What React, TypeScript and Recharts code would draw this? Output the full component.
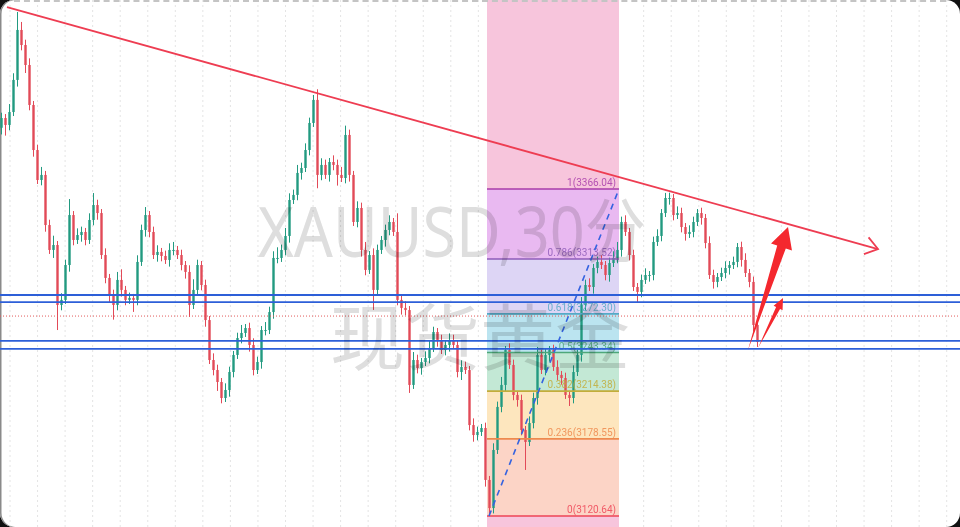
import {
  ComposedChart,
  Bar,
  XAxis,
  YAxis,
  CartesianGrid,
  ReferenceArea,
  ReferenceLine,
} from "recharts";

// XAUUSD 30m, one close per slot (open = previous close)
const closes = [
  3419.3, 3414.1, 3423.8, 3447.9, 3485.4, 3474.1, 3459.1, 3429.1, 3395.3, 3372.8,
  3376.6, 3339.0, 3320.3, 3324.0, 3279.0, 3282.8, 3309.0, 3346.5, 3327.8, 3331.5,
  3333.8, 3327.8, 3342.8, 3354.0, 3348.0, 3316.5, 3299.3, 3286.5, 3279.0, 3297.8,
  3290.3, 3282.8, 3284.3, 3282.8, 3311.3, 3335.3, 3346.5, 3333.8, 3316.5, 3318.8,
  3315.8, 3312.8, 3320.3, 3320.3, 3316.5, 3309.0, 3303.8, 3279.0, 3290.3, 3309.0,
  3294.0, 3267.7, 3237.7, 3230.2, 3221.2, 3209.2, 3215.2, 3228.7, 3241.5, 3254.2,
  3258.0, 3261.7, 3249.0, 3230.2, 3236.2, 3260.2, 3260.2, 3273.7, 3314.3, 3314.3,
  3320.3, 3330.8, 3357.8, 3361.6, 3378.1, 3381.8, 3395.3, 3415.6, 3432.9, 3376.6,
  3384.1, 3376.6, 3386.3, 3384.1, 3376.6, 3374.3, 3406.6, 3376.6, 3341.3, 3351.8,
  3320.3, 3305.3, 3316.5, 3290.3, 3320.3, 3327.8, 3335.3, 3341.3, 3333.8, 3282.8,
  3276.8, 3275.2, 3219.0, 3237.7, 3231.7, 3236.2, 3239.2, 3246.7, 3258.7, 3252.7,
  3245.2, 3249.0, 3252.7, 3249.0, 3228.7, 3232.5, 3230.2, 3188.9, 3181.4, 3183.7,
  3186.7, 3147.7, 3126.6, 3170.2, 3202.5, 3219.0, 3245.2, 3234.0, 3211.5, 3207.7,
  3185.2, 3176.2, 3190.4, 3209.2, 3241.5, 3230.2, 3241.5, 3245.2, 3232.5, 3226.5,
  3224.2, 3211.5, 3209.2, 3228.7, 3241.5, 3279.0, 3294.0, 3292.5, 3306.8, 3311.3,
  3309.0, 3301.5, 3310.5, 3314.3, 3320.3, 3341.3, 3333.8, 3316.5, 3292.5, 3288.8,
  3297.8, 3301.5, 3301.5, 3326.3, 3330.8, 3348.0, 3359.3, 3359.3, 3346.5, 3348.0,
  3337.5, 3332.3, 3333.8, 3341.3, 3348.0, 3344.3, 3325.5, 3301.5, 3296.3, 3300.0,
  3303.0, 3306.8, 3309.0, 3311.3, 3322.5, 3312.8, 3303.0, 3296.3, 3264.0, 3251.2,
];

// wick lengths above / below the body, in dollars
const upperWicks = [
  4, 3, 6, 5, 13.5, 6, 4, 5, 3, 4,
  6, 3, 4, 7, 3, 5, 4, 12, 3, 5,
  4, 3, 5, 9, 4, 3, 5, 3, 4, 6,
  8, 3, 4, 3, 5, 4, 6, 3, 4, 5,
  3, 4, 5, 6, 3, 4, 3, 5, 8, 4,
  3, 4, 3, 5, 4, 3, 5, 4, 3, 4,
  6, 3, 4, 5, 4, 3, 6, 4, 5, 8,
  4, 6, 5, 4, 6, 4, 5, 4, 3.7, 8,
  5, 4, 3, 5, 4, 6, 7, 4, 3, 5,
  4, 6, 3, 5, 4, 3, 4, 5, 3, 14,
  4, 5, 3, 6, 4, 3, 5, 6, 4, 3,
  4, 3, 5, 4, 3, 5, 4, 3, 5, 4,
  3, 4, 3, 5, 4, 6, 3, 5, 4, 3,
  4, 3, 5, 4, 6, 4, 5, 3, 4, 5,
  3, 4, 3, 5, 4, 6, 4, 5, 3, 4,
  5, 3, 4, 5, 6, 4, 5, 3, 4, 3,
  4, 5, 3, 4, 5, 3, 3.8, 4, 3, 5,
  4, 3, 5, 4, 3, 4, 3, 5, 4, 3,
  4, 5, 3, 4, 3, 4, 5, 3, 4, 3,
];
const lowerWicks = [
  5, 8, 4, 3, 5, 4, 6, 4, 5, 3,
  4, 5, 3, 6, 18.8, 4, 3, 5, 4, 3,
  5, 4, 3, 4, 5, 3, 4, 6, 11, 4,
  5, 4, 3, 9, 4, 3, 5, 4, 3, 5,
  4, 3, 5, 4, 3, 4, 5, 9, 3, 4,
  4, 5, 3, 4, 6.7, 4, 3, 5, 4, 3,
  4, 3, 5, 4, 3, 5, 4, 3, 5, 4,
  3, 4, 5, 3, 4, 5, 3, 4, 3, 10,
  4, 3, 5, 4, 8, 3, 4, 5, 3, 4,
  5, 4, 3, 15, 4, 3, 5, 4, 3, 4,
  5, 4, 6, 3, 4, 5, 3, 4, 3, 5,
  3, 4, 5, 3, 4, 6, 3, 4, 5, 4,
  3, 5, 5.96, 4, 3, 4, 5, 3, 4, 5,
  4, 21, 3, 4, 5, 3, 4, 5, 3, 4,
  5, 3, 6, 4, 3, 5, 4, 3, 5, 4,
  3, 4, 5, 3, 4, 5, 3, 4, 3, 8,
  4, 3, 5, 4, 3, 4, 3, 5, 4, 3,
  4, 5, 3, 4, 3, 5, 4, 3, 5, 4,
  3, 4, 5, 3, 4, 5, 3, 4, 5, 3.7,
];
const firstOpen = 3412.0;

// fibonacci retracement 3120.64 -> 3366.04
const fibLevels = [
  { label: "1(3366.04)", price: 3366.04, color: "#a83caa" },
  { label: "0.786(3313.52)", price: 3313.52, color: "#8e5cb8" },
  { label: "0.618(3272.30)", price: 3272.3, color: "#55a9c6" },
  { label: "0.5(3243.34)", price: 3243.34, color: "#4ea77a" },
  { label: "0.382(3214.38)", price: 3214.38, color: "#c2ad3a" },
  { label: "0.236(3178.55)", price: 3178.55, color: "#ee8a4e" },
  { label: "0(3120.64)", price: 3120.64, color: "#ee4456" },
];
const fibZoneFills = ["#e9b9f1", "#ddd5f5", "#bbe4f0", "#c3e8d5", "#fde6be", "#fcd4c6"];
const fibSpan = [121.25, 154.25];
const fibLeg = [
  { x: 121.75, y: 3120.64 },
  { x: 154.25, y: 3366.04 },
];

const trendLine = [
  { x: 1.25, y: 3502.6 },
  { x: 219, y: 3321.0 },
];
const supportLines = [3286.5, 3281.2, 3252.0, 3246.0];
const lastPrice = 3270.7;

const arrows = [
  { from: { x: 186.5, y: 3245.2 }, to: { x: 196.5, y: 3337.5 }, head: 21, headHalf: 11, shaftHalf: 4.5 },
  { from: { x: 189, y: 3246.7 }, to: { x: 195.25, y: 3284.2 }, head: 11, headHalf: 5, shaftHalf: 2.2 },
];

const UP = "#229a80";
const DOWN = "#e24a58";
const SLOTS = 240;

const candles = closes.map((close, i) => {
  const open = i === 0 ? firstOpen : closes[i - 1];
  const high = Math.max(open, close) + upperWicks[i];
  const low = Math.min(open, close) - lowerWicks[i];
  return { i, open, close, high, low, range: [low, high] };
});

function Candle(props: any) {
  const { x, y, width, height, payload } = props;
  if (!payload) return null;
  const { open, close, high, low } = payload;
  const top = Math.min(y, y + height);
  const h = Math.abs(height);
  const k = h / (high - low || 1);
  const cx = x + width / 2;
  const yO = top + (high - open) * k;
  const yC = top + (high - close) * k;
  const color = close >= open ? UP : DOWN;
  return (
    <g>
      <line x1={cx} x2={cx} y1={top} y2={top + h} stroke={color} strokeWidth={1} />
      <rect
        x={cx - 1.2}
        width={2.4}
        y={Math.min(yO, yC)}
        height={Math.max(1, Math.abs(yO - yC))}
        fill={color}
      />
    </g>
  );
}

function TrendWithArrow(props: any) {
  const { x1, y1, x2, y2 } = props;
  const a = Math.atan2(y2 - y1, x2 - x1);
  const len = 15;
  const s = 0.62;
  return (
    <g stroke="#ee3d52" strokeWidth={1.8} fill="none">
      <line x1={x1} y1={y1} x2={x2} y2={y2} />
      <polyline
        points={`${x2 - len * Math.cos(a + s)},${y2 - len * Math.sin(a + s)} ${x2},${y2} ${
          x2 - len * Math.cos(a - s)
        },${y2 - len * Math.sin(a - s)}`}
      />
    </g>
  );
}

function makeArrow(head: number, headHalf: number, shaftHalf: number) {
  return (props: any) => {
    const { x1, y1, x2, y2 } = props;
    const L = Math.hypot(x2 - x1, y2 - y1) || 1;
    const ux = (x2 - x1) / L;
    const uy = (y2 - y1) / L;
    const nx = -uy;
    const ny = ux;
    const bx = x2 - ux * head;
    const by = y2 - uy * head;
    const pts = [
      [x1, y1],
      [bx + nx * shaftHalf, by + ny * shaftHalf],
      [bx + nx * headHalf, by + ny * headHalf],
      [x2, y2],
      [bx - nx * headHalf, by - ny * headHalf],
      [bx - nx * shaftHalf, by - ny * shaftHalf],
    ]
      .map((p) => p.join(","))
      .join(" ");
    return <polygon points={pts} fill="#f4282e" />;
  };
}

function makeFibLine(label: string, color: string) {
  return (props: any) => {
    const { x1, y1, x2, y2 } = props;
    return (
      <g>
        <line x1={x1} y1={y1} x2={x2} y2={y2} stroke={color} strokeWidth={1.6} />
        <text
          x={x2 - 3}
          y={y1 - 3}
          textAnchor="end"
          fontSize={10}
          fontFamily="Roboto, sans-serif"
          fill={color}
          fillOpacity={0.85}
        >
          {label}
        </text>
      </g>
    );
  };
}

const gridXs = Array.from({ length: 35 }, (_, k) => 10 + k * 27.55);

export default function App() {
  return (
    <div
      style={{
        position: "absolute",
        left: 0,
        top: 0,
        width: 960,
        height: 527,
        background: "#111",
      }}
    >
      <div
        style={{
          position: "absolute",
          inset: 0,
          background: "#fff",
          borderRadius: 14,
          overflow: "hidden",
          boxShadow: "inset 1.5px 0 0 #8a8a8a",
        }}
      >
        <ComposedChart
          width={960}
          height={527}
          data={candles}
          margin={{ top: 0, right: 0, bottom: 0, left: 0 }}
        >
          <CartesianGrid
            horizontal={false}
            verticalPoints={gridXs}
            stroke="#e4e4e4"
            strokeDasharray="2 3"
          />
          <XAxis
            type="number"
            dataKey="i"
            domain={[-0.5, SLOTS - 0.5]}
            allowDataOverflow
            hide
          />
          <YAxis type="number" domain={[3112.39, 3507.88]} allowDataOverflow hide />

          {/* highlighted session band + fib zones */}
          <ReferenceArea
            x1={fibSpan[0]}
            x2={fibSpan[1]}
            fill="#f7c5dc"
            fillOpacity={1}
            ifOverflow="visible"
          />
          {fibZoneFills.map((fill, k) => (
            <ReferenceArea
              key={"z" + k}
              x1={fibSpan[0]}
              x2={fibSpan[1]}
              y1={fibLevels[k + 1].price}
              y2={fibLevels[k].price}
              fill={fill}
              fillOpacity={1}
              ifOverflow="visible"
            />
          ))}
          {fibLevels.map((lv) => (
            <ReferenceLine
              key={lv.label}
              segment={[
                { x: fibSpan[0], y: lv.price },
                { x: fibSpan[1], y: lv.price },
              ]}
              ifOverflow="visible"
              shape={makeFibLine(lv.label, lv.color)}
            />
          ))}

          <Bar
            dataKey="range"
            barSize={3}
            shape={<Candle />}
            isAnimationActive={false}
          />

          <ReferenceLine
            segment={fibLeg}
            stroke="#3563e0"
            strokeWidth={1.6}
            strokeDasharray="6 5"
            ifOverflow="visible"
          />
          {supportLines.map((p) => (
            <ReferenceLine
              key={p}
              y={p}
              stroke="#2d5fd8"
              strokeWidth={1.8}
              ifOverflow="visible"
            />
          ))}
          <ReferenceLine
            y={lastPrice}
            stroke="#e25a5a"
            strokeWidth={1}
            strokeDasharray="1 2"
            ifOverflow="visible"
          />
          <ReferenceLine segment={trendLine} ifOverflow="visible" shape={TrendWithArrow} />
          {arrows.map((a, k) => (
            <ReferenceLine
              key={"a" + k}
              segment={[a.from, a.to]}
              ifOverflow="visible"
              shape={makeArrow(a.head, a.headHalf, a.shaftHalf)}
            />
          ))}
        </ComposedChart>

        {/* symbol watermark */}
        <svg
          width={960}
          height={527}
          style={{ position: "absolute", left: 0, top: 0, mixBlendMode: "multiply", pointerEvents: "none" }}
        >
          <text
            x={258}
            y={257}
            fontSize={70}
            fontFamily="'Noto Sans', 'Noto Sans CJK SC', sans-serif"
            fill="#dedede"
            textLength={388}
            lengthAdjust="spacingAndGlyphs"
          >
            XAUUSD,30分
          </text>
          <text
            x={330}
            y={364}
            fontSize={72}
            fontFamily="'Noto Sans CJK SC', sans-serif"
            fill="#dedede"
            textLength={300}
            lengthAdjust="spacingAndGlyphs"
          >
            现货黄金
          </text>
        </svg>
        <div
          style={{
            position: "absolute",
            left: 14,
            right: 14,
            top: 0,
            borderTop: "2px dashed #c4c4c4",
          }}
        />
      </div>
    </div>
  );
}
